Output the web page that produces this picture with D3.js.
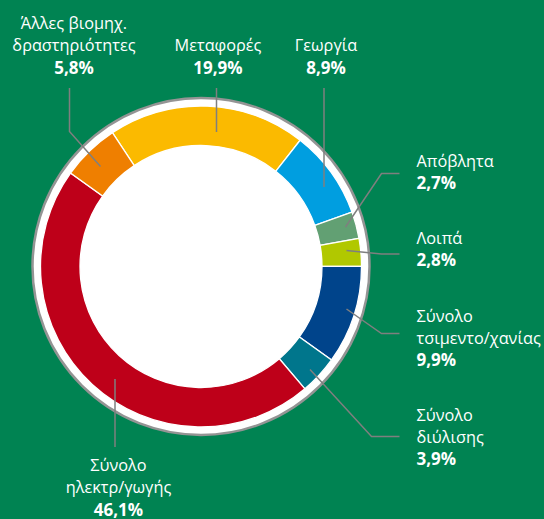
<!DOCTYPE html>
<html lang="el">
<head>
  <meta charset="UTF-8">
  <title>Εκπομπές ανά τομέα</title>
  <script src="https://d3js.org/d3.v7.min.js"></script>
  <style>
    body { margin: 0; background: #008352; }
    svg { display: block; }
    .lbl { font-family: 'Open Sans', sans-serif; font-size: 16.3px; fill: #fff; }
    .lbl .pct { font-weight: bold; font-size: 17px; }
  </style>
</head>
<body>
  <svg width="544" height="519"></svg>
  <script>
    // data, clockwise from the top
    const categories = [
      ["Μεταφορές"],
      ["Γεωργία"],
      ["Απόβλητα"],
      ["Λοιπά"],
      ["Σύνολο", "τσιμεντο/χανίας"],
      ["Σύνολο", "διύλισης"],
      ["Σύνολο", "ηλεκτρ/γωγής"],
      ["Άλλες βιομηχ.", "δραστηριότητες"]
    ];
    const shares = [19.9, 8.9, 2.7, 2.8, 9.9, 3.9, 46.1, 5.8];
    const colors = ["#fbba00", "#009ee0", "#62a073", "#b1c800", "#00448b", "#00768c", "#be0019", "#ef7f00"];

    // label placement: anchor, x, first baseline, leader polyline
    const labelLayout = [
      { anchor: "middle", x: 218, y: 51, leader: [[216.5, 88], [216.5, 132]] },
      { anchor: "middle", x: 326, y: 51, leader: [[324, 88], [324, 187]] },
      { anchor: "start", x: 416.5, y: 166.5, leader: [[345.5, 227], [381.5, 173.5], [399.5, 173.5]] },
      { anchor: "start", x: 416.5, y: 243.5, leader: [[346.5, 250.5], [381.5, 254], [399.5, 254]] },
      { anchor: "start", x: 416.5, y: 321.5, leader: [[346.5, 309], [381.5, 333.5], [399.5, 333.5]] },
      { anchor: "start", x: 416.5, y: 420.5, leader: [[310, 369.5], [371.5, 436.5], [399.5, 436.5]] },
      { anchor: "middle", x: 118.5, y: 471, leader: [[115, 379], [115, 447]] },
      { anchor: "middle", x: 74, y: 29, leader: [[69.5, 88], [69.5, 131.5], [100.5, 166.5]] }
    ];

    const cx = 201, cy = 266.5;
    const rOuter = 160.5, rInner = 121, rRing = 168.5;
    const lineH = 22;
    const fmt = d3.formatLocale({ decimal: ",", thousands: ".", grouping: [3], currency: ["", "€"] }).format(".1f");

    const svg = d3.select("svg");
    const g = svg.append("g").attr("transform", `translate(${cx},${cy})`);

    // white disc with grey rim
    g.append("circle").attr("r", rRing).attr("fill", "#fff")
      .attr("stroke", "#949494").attr("stroke-width", 2.5);

    const pie = d3.pie().sort(null).value(d => d)
      .startAngle(-33.5 * Math.PI / 180)
      .endAngle((360 - 33.5) * Math.PI / 180);
    const arc = d3.arc().innerRadius(rInner).outerRadius(rOuter);

    g.selectAll("path.slice")
      .data(pie(shares))
      .enter().append("path")
      .attr("class", "slice")
      .attr("d", arc)
      .attr("fill", (d, i) => colors[i])
      .attr("stroke", "#fff")
      .attr("stroke-width", 1.3);

    // leaders
    const line = d3.line();
    svg.append("g").selectAll("path")
      .data(labelLayout)
      .enter().append("path")
      .attr("d", d => line(d.leader))
      .attr("fill", "none")
      .attr("stroke", "#7f7f7f")
      .attr("stroke-width", 1.5);

    // labels
    const labels = svg.append("g").selectAll("text")
      .data(categories)
      .enter().append("text")
      .attr("class", "lbl")
      .attr("text-anchor", (d, i) => labelLayout[i].anchor)
      .attr("x", (d, i) => labelLayout[i].x)
      .attr("y", (d, i) => labelLayout[i].y);

    labels.each(function(d, i) {
      const t = d3.select(this);
      const x = labelLayout[i].x;
      d.forEach((s, k) => {
        t.append("tspan").attr("x", x).attr("dy", k === 0 ? 0 : lineH).text(s);
      });
      t.append("tspan").attr("class", "pct").attr("x", x).attr("dy", lineH + 0.5)
        .text(fmt(shares[i]) + "%");
    });
  </script>
</body>
</html>
